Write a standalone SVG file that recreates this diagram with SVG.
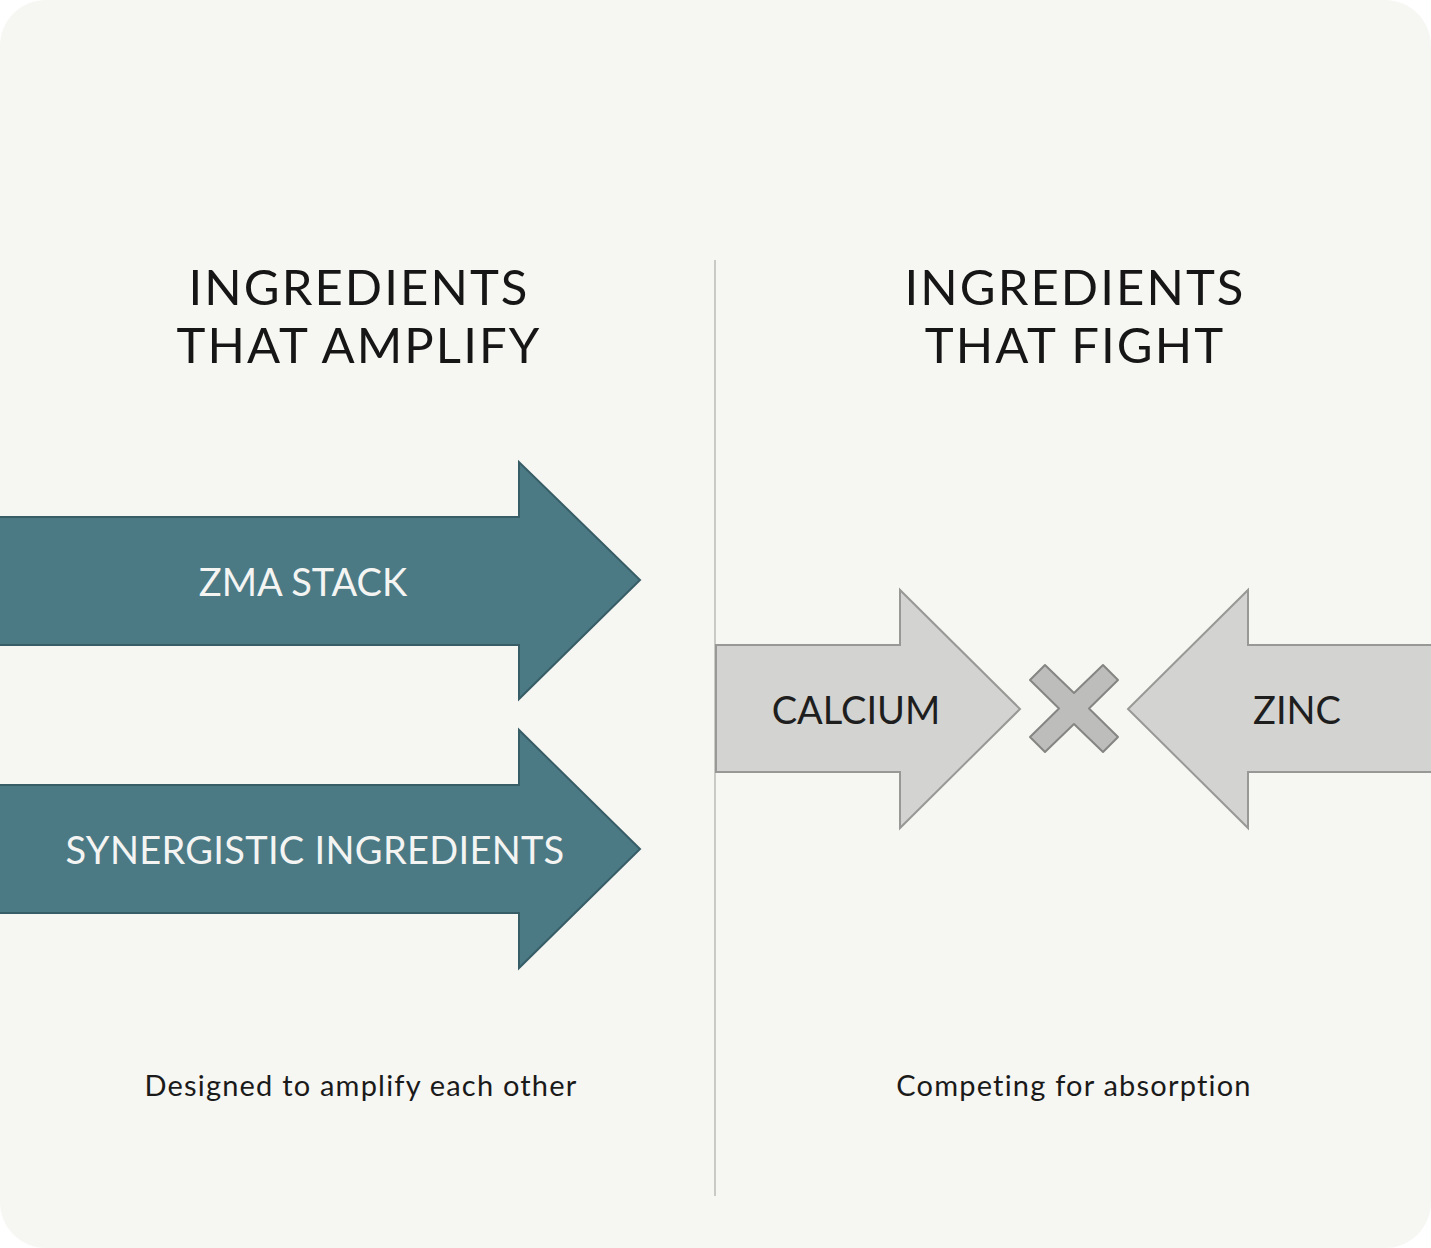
<svg xmlns="http://www.w3.org/2000/svg" width="1431" height="1248" viewBox="0 0 1431 1248">
<style>
text{font-variant-ligatures:none}
.title{font-family:Lato,"Liberation Sans",sans-serif;font-size:49px;fill:#161616;text-anchor:middle;letter-spacing:2.1px}
.lbl{font-family:Lato,"Liberation Sans",sans-serif;font-size:38px;text-anchor:middle}
.w{fill:#f4f4f2}
.d{fill:#1e1e1e}
.cap{font-family:Lato,"Liberation Sans",sans-serif;font-size:29px;fill:#1a1a1a;text-anchor:middle;letter-spacing:1.2px}
.teal{fill:#4b7a85;stroke:#375d67;stroke-width:2}
.gray{fill:#d3d3d1;stroke:#989896;stroke-width:2}
</style>
<rect x="0" y="0" width="1431" height="1248" fill="#ffffff"/>
<rect x="0" y="0" width="1431" height="1248" rx="46" ry="46" fill="#f6f6f2"/>
<g id="connectors">
<line x1="715" y1="260" x2="715" y2="1196" stroke="#c9c9c5" stroke-width="2"/>
</g>
<g id="title-left">
<text class="title" x="359" y="305">INGREDIENTS</text>
<text class="title" x="359" y="363">THAT AMPLIFY</text>
</g>
<g id="title-right">
<text class="title" x="1075" y="305">INGREDIENTS</text>
<text class="title" x="1075" y="363">THAT FIGHT</text>
</g>
<g id="zma-stack">
<polygon class="teal" points="-2,517 519,517 519,462 640,580 519,699 519,645 -2,645"/>
<text class="lbl w" x="303" y="596">ZMA STACK</text>
</g>
<g id="synergistic">
<polygon class="teal" points="-2,785 519,785 519,730 640,849 519,968 519,913 -2,913"/>
<text class="lbl w" x="315" y="864" style="letter-spacing:0.3px">SYNERGISTIC INGREDIENTS</text>
</g>
<g id="calcium">
<polygon class="gray" points="716,645 900,645 900,590 1020,709 900,828 900,772 716,772"/>
<text class="lbl d" x="856" y="724">CALCIUM</text>
</g>
<g id="zinc">
<polygon class="gray" points="1433,645 1248,645 1248,590 1128,709 1248,828 1248,772 1433,772"/>
<text class="lbl d" x="1297" y="724">ZINC</text>
</g>
<g id="cross">
<polygon points="1074,693 1103,665 1118,680 1089,708.5 1118,737 1103,752 1074,724 1045,752 1030,737 1059,708.5 1030,680 1045,665" fill="#bdbdbb" stroke="#858583" stroke-width="2" stroke-linejoin="round"/>
</g>
<g id="caption-left">
<text class="cap" x="361" y="1096">Designed to amplify each other</text>
</g>
<g id="caption-right">
<text class="cap" x="1074" y="1096">Competing for absorption</text>
</g>
</svg>
